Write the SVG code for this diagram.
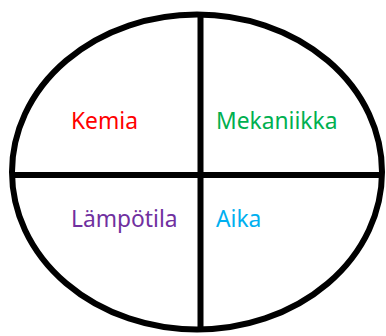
<svg xmlns="http://www.w3.org/2000/svg" width="386" height="336" viewBox="0 0 386 336">
<style>
.ln{stroke:#000;stroke-width:6;fill:none}
.t{font-family:"Noto Sans","DejaVu Sans",sans-serif;font-size:22.8px}
</style>
<rect width="386" height="336" fill="#fff"/>
<g id="connectors">
<ellipse class="ln" cx="197" cy="172" rx="185" ry="157.5"/>
<line class="ln" x1="200.5" y1="14" x2="200.5" y2="330"/>
<line class="ln" x1="12" y1="175" x2="382" y2="175"/>
</g>
<g id="kemia"><text class="t" x="71" y="129" fill="#FF0000">Kemia</text></g>
<g id="mekaniikka"><text class="t" x="216" y="129" fill="#00B050">Mekaniikka</text></g>
<g id="lampotila"><text class="t" x="71" y="227" fill="#7030A0">Lämpötila</text></g>
<g id="aika"><text class="t" x="216" y="227" fill="#00B0F0">Aika</text></g>
</svg>
